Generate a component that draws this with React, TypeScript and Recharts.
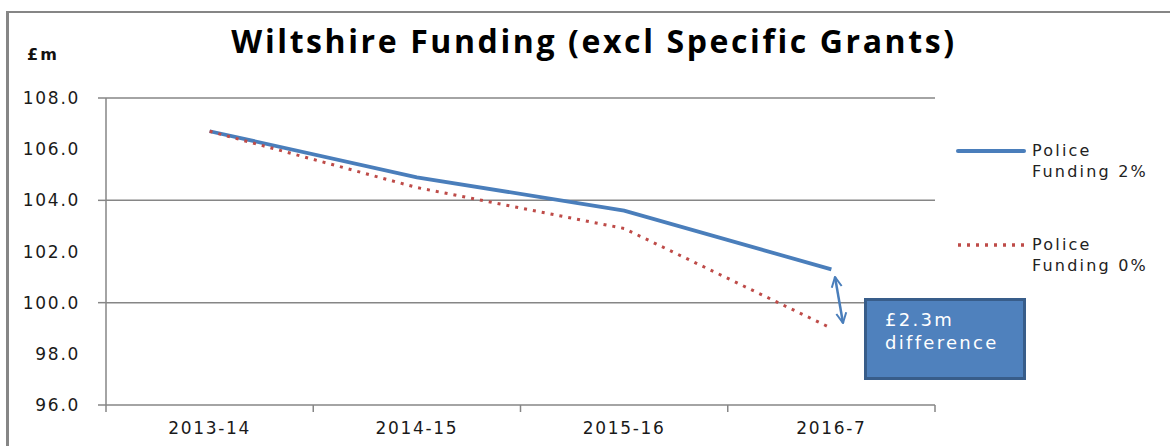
import React from "react";
import { LineChart, Line, XAxis, YAxis, ReferenceLine } from "recharts";

const YEARS = ["2013-14", "2014-15", "2015-16", "2016-7"];
const FUNDING_2 = [106.7, 104.9, 103.6, 101.3];
const FUNDING_0 = [106.7, 104.5, 102.9, 99.0];
const Y_TICKS = [96, 98, 100, 102, 104, 106, 108];
const GRID_VALUES = [100, 104, 108];
// integer ticks carry the year labels, half ticks are the category boundaries
const X_TICKS = [-0.5, 0, 0.5, 1, 1.5, 2, 2.5, 3, 3.5];

const SERIES = [
  { key: "p2", label: ["Police", "Funding 2%"], color: "#4a7ebb", width: 3.8, dash: undefined as string | undefined },
  { key: "p0", label: ["Police", "Funding 0%"], color: "#be4b48", width: 3, dash: "3 6" },
];

const data = YEARS.map((year, i) => ({ idx: i, year, p2: FUNDING_2[i], p0: FUNDING_0[i] }));

const AXIS_GREY = "#868686";
const TICK_FONT = { fontFamily: "DejaVu Sans", fontSize: 17, letterSpacing: 1.7, fill: "#1a1a1a" };

function YTick({ x, y, payload }: any) {
  const v = payload.value as number;
  return (
    <g>
      {v % 4 === 0 && <line x1={x - 8} x2={x} y1={y} y2={y} stroke={AXIS_GREY} strokeWidth={1.5} />}
      <text x={x - 26} y={y} textAnchor="end" dominantBaseline="central" {...TICK_FONT}>
        {v.toFixed(1)}
      </text>
    </g>
  );
}

function XTick({ x, y, payload }: any) {
  const v = payload.value as number;
  if (Number.isInteger(v)) {
    return (
      <text x={x} y={y + 23} textAnchor="middle" dominantBaseline="central" {...TICK_FONT}>
        {YEARS[v]}
      </text>
    );
  }
  return <line x1={x} x2={x} y1={y} y2={y + 7} stroke={AXIS_GREY} strokeWidth={1.5} />;
}

function LegendBox() {
  const tops = [140, 234];
  return (
    <>
      {SERIES.map((s, i) => (
        <div key={s.key} style={{ position: "absolute", left: 955, top: tops[i], display: "flex", alignItems: "flex-start" }}>
          <svg width={74} height={22}>
            <line
              x1={3}
              x2={69}
              y1={11}
              y2={11}
              stroke={s.color}
              strokeWidth={s.width + 0.3}
              strokeDasharray={s.dash}
              strokeLinecap={s.dash ? "butt" : "round"}
            />
          </svg>
          <div style={{ marginLeft: 3, fontFamily: "DejaVu Sans", fontSize: 16, letterSpacing: 2.2, lineHeight: "21px", color: "#222" }}>
            {s.label.map((t) => (
              <div key={t}>{t}</div>
            ))}
          </div>
        </div>
      ))}
    </>
  );
}

export default function App() {
  return (
    <div style={{ position: "absolute", left: 0, top: 0, width: 1170, height: 446, background: "#fff", overflow: "hidden" }}>
      {/* chart area frame */}
      <div style={{ position: "absolute", left: 6, top: 11, width: 1170, height: 446, borderLeft: `3px solid ${AXIS_GREY}`, borderTop: `2px solid ${AXIS_GREY}` }} />

      <div
        style={{
          position: "absolute",
          left: 0,
          width: 1188,
          top: 19,
          textAlign: "center",
          fontFamily: "Open Sans",
          fontWeight: 700,
          fontSize: 32,
          letterSpacing: 2.6,
          color: "#000",
        }}
      >
        Wiltshire Funding (excl Specific Grants)
      </div>
      <div style={{ position: "absolute", left: 27, top: 45, fontFamily: "DejaVu Sans", fontWeight: 700, fontSize: 16, letterSpacing: 2, color: "#111" }}>
        £m
      </div>

      <LineChart width={1170} height={446} data={data} margin={{ top: 98, right: 235, left: 0, bottom: 0 }} style={{ position: "absolute", left: 0, top: 0 }}>
        <XAxis
          dataKey="idx"
          type="number"
          domain={[-0.5, 3.5]}
          ticks={X_TICKS}
          interval={0}
          tickSize={0}
          tickMargin={0}
          tickLine={false}
          tick={<XTick />}
          height={41}
          axisLine={{ stroke: AXIS_GREY, strokeWidth: 1.5 }}
        />
        <YAxis
          type="number"
          domain={[96, 108]}
          ticks={Y_TICKS}
          interval={0}
          width={106}
          tickSize={0}
          tickMargin={0}
          tickLine={false}
          tick={<YTick />}
          axisLine={{ stroke: AXIS_GREY, strokeWidth: 1.5 }}
        />
        {GRID_VALUES.map((v) => (
          <ReferenceLine key={v} y={v} stroke={AXIS_GREY} strokeWidth={1.5} />
        ))}
        {SERIES.map((s) => (
          <Line
            key={s.key}
            type="linear"
            dataKey={s.key}
            name={s.label.join(" ")}
            stroke={s.color}
            strokeWidth={s.width}
            strokeDasharray={s.dash}
            dot={false}
            isAnimationActive={false}
          />
        ))}
      </LineChart>

      <LegendBox />

      {/* difference annotation */}
      <svg width={1170} height={446} style={{ position: "absolute", left: 0, top: 0, pointerEvents: "none" }}>
        <defs>
          <marker id="arr" viewBox="0 0 10 10" refX={9} refY={5} markerWidth={5} markerHeight={5} orient="auto-start-reverse">
            <path d="M1 1 L9 5 L1 9" fill="none" stroke="#4a7ebb" strokeWidth={1.6} />
          </marker>
        </defs>
        <line x1={835} y1={277} x2={843} y2={323} stroke="#4a7ebb" strokeWidth={2.5} markerStart="url(#arr)" markerEnd="url(#arr)" />
      </svg>
      <div
        style={{
          position: "absolute",
          left: 864,
          top: 298,
          width: 162,
          height: 82,
          background: "#4f81bd",
          border: "3px solid #385d8a",
          color: "#fff",
          fontFamily: "DejaVu Sans",
          fontSize: 18,
          letterSpacing: 2.3,
          lineHeight: "23px",
          paddingLeft: 18,
          paddingTop: 7,
          boxSizing: "border-box",
        }}
      >
        <div>£2.3m</div>
        <div>difference</div>
      </div>
    </div>
  );
}
